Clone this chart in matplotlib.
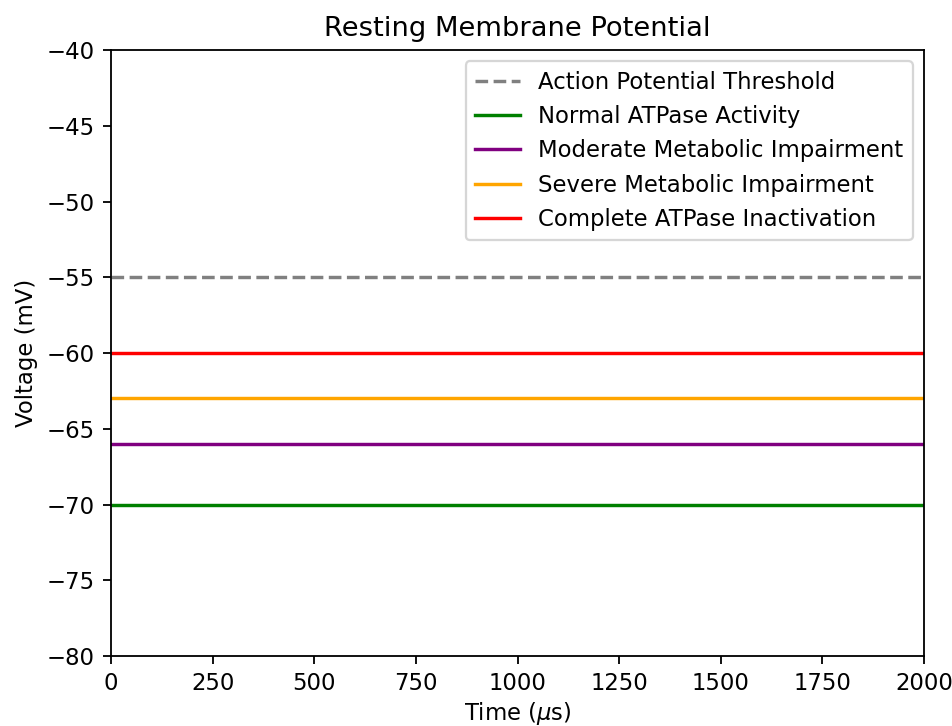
import numpy as np
import matplotlib
matplotlib.use('Agg')
from matplotlib import pyplot as plt

# dados
time_span = [0, 2000]
threshold = -55
labels = ['Normal ATPase Activity', 'Moderate Metabolic Impairment',
          'Severe Metabolic Impairment', 'Complete ATPase Inactivation']
potentials = [-70, -66, -63, -60]
colors = ['green', 'purple', 'orange', 'red']

DPI = 164
fig, ax = plt.subplots(figsize=(953 / DPI, 726 / DPI), dpi=DPI)
fig.subplots_adjust(left=0.1165, right=0.9696, top=0.931, bottom=0.0964)

ax.plot(time_span, [threshold, threshold], '--', color='gray', label='Action Potential Threshold')
for v, lab, c in zip(potentials, labels, colors):
    ax.plot(time_span, [v, v], color=c, label=lab)

ax.set_xlim(0, 2000)
ax.set_ylim(-80, -40)
ax.set_title('Resting Membrane Potential')
ax.set_xlabel(r'Time ($\mu$s)', labelpad=2)
ax.set_ylabel('Voltage (mV)')
ax.legend(loc='upper right')

fig.savefig('out.png', dpi=DPI)
